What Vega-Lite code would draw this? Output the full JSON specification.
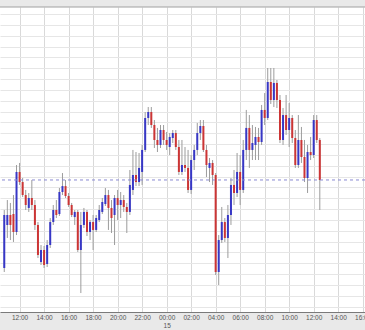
{
  "$schema": "https://vega.github.io/schema/vega-lite/v6.json",
  "width": 365,
  "height": 305,
  "autosize": {"type": "none"},
  "padding": {"left": 0, "top": 7, "right": 0, "bottom": 18},
  "background": "#e9e9e9",
  "config": {"view": {"fill": "#ffffff", "stroke": null}},
  "datasets": {
    "candles": [
      {"t": 10.75, "o": 103.57, "h": 108.92, "l": 103.20, "c": 108.46},
      {"t": 11.00, "o": 107.54, "h": 109.84, "l": 106.34, "c": 108.46},
      {"t": 11.25, "o": 108.46, "h": 109.57, "l": 106.15, "c": 107.54},
      {"t": 11.50, "o": 108.55, "h": 110.30, "l": 105.97, "c": 106.89},
      {"t": 11.75, "o": 106.89, "h": 113.07, "l": 106.61, "c": 112.43},
      {"t": 12.00, "o": 112.43, "h": 113.26, "l": 111.23, "c": 111.50},
      {"t": 12.25, "o": 111.50, "h": 111.87, "l": 110.12, "c": 110.30},
      {"t": 12.50, "o": 110.30, "h": 110.77, "l": 108.92, "c": 109.38},
      {"t": 12.75, "o": 109.11, "h": 110.49, "l": 108.74, "c": 110.03},
      {"t": 13.00, "o": 110.03, "h": 111.69, "l": 108.92, "c": 109.38},
      {"t": 13.25, "o": 109.38, "h": 109.84, "l": 107.08, "c": 107.54},
      {"t": 13.50, "o": 107.54, "h": 107.81, "l": 104.49, "c": 104.77},
      {"t": 13.75, "o": 104.12, "h": 105.69, "l": 103.85, "c": 105.23},
      {"t": 14.00, "o": 105.23, "h": 105.60, "l": 103.57, "c": 103.85},
      {"t": 14.25, "o": 103.94, "h": 106.15, "l": 103.66, "c": 105.69},
      {"t": 14.50, "o": 105.69, "h": 108.18, "l": 105.42, "c": 107.81},
      {"t": 14.75, "o": 107.81, "h": 109.38, "l": 107.54, "c": 108.92},
      {"t": 15.00, "o": 108.92, "h": 109.84, "l": 108.18, "c": 108.46},
      {"t": 15.25, "o": 108.55, "h": 110.95, "l": 108.37, "c": 110.58},
      {"t": 15.50, "o": 110.58, "h": 112.33, "l": 110.30, "c": 111.13},
      {"t": 15.75, "o": 111.13, "h": 111.69, "l": 110.03, "c": 110.21},
      {"t": 16.00, "o": 110.21, "h": 110.49, "l": 109.20, "c": 109.38},
      {"t": 16.25, "o": 109.38, "h": 109.57, "l": 108.27, "c": 108.46},
      {"t": 16.50, "o": 108.27, "h": 108.92, "l": 107.54, "c": 108.74},
      {"t": 16.75, "o": 108.74, "h": 108.92, "l": 105.05, "c": 105.23},
      {"t": 17.00, "o": 105.23, "h": 108.74, "l": 101.26, "c": 107.54},
      {"t": 17.25, "o": 107.54, "h": 109.11, "l": 107.26, "c": 108.74},
      {"t": 17.50, "o": 108.74, "h": 108.92, "l": 106.52, "c": 106.89},
      {"t": 17.75, "o": 106.89, "h": 108.00, "l": 106.15, "c": 107.81},
      {"t": 18.00, "o": 107.81, "h": 108.46, "l": 105.23, "c": 107.08},
      {"t": 18.25, "o": 107.08, "h": 108.46, "l": 106.89, "c": 108.18},
      {"t": 18.50, "o": 108.00, "h": 109.38, "l": 107.81, "c": 108.92},
      {"t": 18.75, "o": 108.74, "h": 110.03, "l": 108.55, "c": 109.66},
      {"t": 19.00, "o": 109.47, "h": 110.95, "l": 109.29, "c": 110.30},
      {"t": 19.25, "o": 110.30, "h": 110.77, "l": 107.08, "c": 109.11},
      {"t": 19.50, "o": 109.11, "h": 109.84, "l": 106.80, "c": 108.18},
      {"t": 19.75, "o": 108.46, "h": 110.30, "l": 105.69, "c": 110.03},
      {"t": 20.00, "o": 110.03, "h": 110.77, "l": 108.00, "c": 109.38},
      {"t": 20.25, "o": 109.38, "h": 110.58, "l": 108.18, "c": 109.84},
      {"t": 20.50, "o": 109.84, "h": 110.30, "l": 108.74, "c": 109.20},
      {"t": 20.75, "o": 109.20, "h": 109.57, "l": 106.80, "c": 108.74},
      {"t": 21.00, "o": 108.74, "h": 112.61, "l": 108.46, "c": 111.23},
      {"t": 21.25, "o": 110.77, "h": 114.46, "l": 110.30, "c": 112.15},
      {"t": 21.50, "o": 112.15, "h": 114.27, "l": 111.13, "c": 111.50},
      {"t": 21.75, "o": 111.50, "h": 114.18, "l": 111.13, "c": 112.80},
      {"t": 22.00, "o": 112.43, "h": 114.92, "l": 111.23, "c": 114.46},
      {"t": 22.25, "o": 114.46, "h": 117.96, "l": 114.27, "c": 117.41},
      {"t": 22.50, "o": 117.41, "h": 118.42, "l": 116.76, "c": 117.96},
      {"t": 22.75, "o": 117.96, "h": 118.42, "l": 116.49, "c": 116.76},
      {"t": 23.00, "o": 116.76, "h": 117.22, "l": 114.64, "c": 115.38},
      {"t": 23.25, "o": 115.38, "h": 116.49, "l": 114.27, "c": 114.92},
      {"t": 23.50, "o": 114.92, "h": 116.76, "l": 114.64, "c": 116.30},
      {"t": 23.75, "o": 116.30, "h": 116.76, "l": 114.92, "c": 115.38},
      {"t": 24.00, "o": 115.38, "h": 116.12, "l": 114.46, "c": 114.92},
      {"t": 24.25, "o": 114.73, "h": 116.02, "l": 113.99, "c": 115.66},
      {"t": 24.50, "o": 115.56, "h": 116.30, "l": 115.10, "c": 116.02},
      {"t": 24.75, "o": 116.02, "h": 116.30, "l": 114.46, "c": 114.73},
      {"t": 25.00, "o": 114.73, "h": 115.38, "l": 112.15, "c": 112.43},
      {"t": 25.25, "o": 112.43, "h": 115.38, "l": 112.15, "c": 113.07},
      {"t": 25.50, "o": 113.07, "h": 114.73, "l": 112.43, "c": 112.80},
      {"t": 25.75, "o": 112.80, "h": 114.46, "l": 110.49, "c": 110.77},
      {"t": 26.00, "o": 110.77, "h": 113.99, "l": 110.40, "c": 113.53},
      {"t": 26.25, "o": 113.53, "h": 114.92, "l": 112.61, "c": 114.46},
      {"t": 26.50, "o": 114.46, "h": 116.95, "l": 113.99, "c": 116.02},
      {"t": 26.75, "o": 116.02, "h": 117.22, "l": 115.38, "c": 116.67},
      {"t": 27.00, "o": 116.67, "h": 117.22, "l": 114.27, "c": 114.46},
      {"t": 27.25, "o": 114.46, "h": 114.92, "l": 111.96, "c": 113.07},
      {"t": 27.50, "o": 112.80, "h": 113.72, "l": 111.50, "c": 113.26},
      {"t": 27.75, "o": 113.26, "h": 113.53, "l": 111.23, "c": 112.15},
      {"t": 28.00, "o": 112.15, "h": 112.33, "l": 102.92, "c": 103.20},
      {"t": 28.25, "o": 103.20, "h": 106.61, "l": 102.00, "c": 106.15},
      {"t": 28.50, "o": 106.15, "h": 109.20, "l": 105.88, "c": 107.81},
      {"t": 28.75, "o": 107.81, "h": 108.18, "l": 105.97, "c": 106.34},
      {"t": 29.00, "o": 106.34, "h": 109.38, "l": 104.49, "c": 108.46},
      {"t": 29.25, "o": 108.46, "h": 111.87, "l": 107.54, "c": 111.23},
      {"t": 29.50, "o": 111.23, "h": 112.61, "l": 109.38, "c": 110.49},
      {"t": 29.75, "o": 110.49, "h": 114.18, "l": 110.12, "c": 112.43},
      {"t": 30.00, "o": 112.43, "h": 113.99, "l": 109.38, "c": 110.77},
      {"t": 30.25, "o": 110.77, "h": 115.38, "l": 110.49, "c": 114.46},
      {"t": 30.50, "o": 114.46, "h": 118.15, "l": 113.53, "c": 116.49},
      {"t": 30.75, "o": 116.49, "h": 117.68, "l": 112.80, "c": 114.46},
      {"t": 31.00, "o": 114.46, "h": 116.76, "l": 113.53, "c": 115.10},
      {"t": 31.25, "o": 114.92, "h": 116.58, "l": 113.53, "c": 115.66},
      {"t": 31.50, "o": 115.66, "h": 116.49, "l": 113.53, "c": 115.19},
      {"t": 31.75, "o": 115.19, "h": 118.61, "l": 114.92, "c": 118.15},
      {"t": 32.00, "o": 118.15, "h": 119.71, "l": 116.76, "c": 117.41},
      {"t": 32.25, "o": 117.41, "h": 122.02, "l": 117.22, "c": 120.73},
      {"t": 32.50, "o": 120.73, "h": 122.02, "l": 118.70, "c": 119.07},
      {"t": 32.75, "o": 119.07, "h": 122.02, "l": 118.42, "c": 120.64},
      {"t": 33.00, "o": 120.64, "h": 120.91, "l": 118.33, "c": 119.07},
      {"t": 33.25, "o": 119.07, "h": 119.53, "l": 115.10, "c": 115.38},
      {"t": 33.50, "o": 115.38, "h": 118.33, "l": 114.92, "c": 117.68},
      {"t": 33.75, "o": 117.68, "h": 119.53, "l": 115.84, "c": 116.30},
      {"t": 34.00, "o": 116.30, "h": 118.79, "l": 114.73, "c": 117.41},
      {"t": 34.25, "o": 117.41, "h": 117.68, "l": 115.10, "c": 115.56},
      {"t": 34.50, "o": 115.56, "h": 116.30, "l": 112.80, "c": 113.07},
      {"t": 34.75, "o": 113.07, "h": 117.68, "l": 112.80, "c": 115.38},
      {"t": 35.00, "o": 115.38, "h": 116.58, "l": 113.26, "c": 113.81},
      {"t": 35.25, "o": 113.81, "h": 115.38, "l": 111.50, "c": 111.87},
      {"t": 35.50, "o": 111.87, "h": 114.92, "l": 110.49, "c": 114.27},
      {"t": 35.75, "o": 114.27, "h": 115.66, "l": 113.53, "c": 113.99},
      {"t": 36.00, "o": 113.99, "h": 117.68, "l": 113.72, "c": 117.22},
      {"t": 36.25, "o": 117.22, "h": 117.68, "l": 115.10, "c": 115.38},
      {"t": 36.50, "o": 115.38, "h": 115.56, "l": 108.92, "c": 111.69}
    ],
    "lines": [
      {"name": "last", "price": 111.69},
      {"name": "top", "price": 127.647}
    ]
  },
  "layer": [
    {
      "data": {"name": "candles"},
      "mark": {"type": "rule", "color": "#9c9c9c", "strokeWidth": 1},
      "encoding": {
        "x": {
          "field": "t",
          "type": "quantitative",
          "scale": {"domain": [10.81, 39.78], "nice": false, "zero": false},
          "axis": {
            "values": [12, 14, 16, 18, 20, 22, 24, 26, 28, 30, 32, 34, 36, 38, 40],
            "tickCount": 100,
            "labelExpr": "datum.value == 24 ? ['00:00', '15'] : ((datum.value % 24 < 10 ? '0' : '') + (datum.value % 24) + ':00')",
            "grid": true,
            "gridColor": "#d9d9d9",
            "ticks": false,
            "domainColor": "#7a7a7a",
            "labelFont": "Liberation Sans",
            "labelFontSize": 6.5,
            "labelColor": "#555555",
            "labelPadding": 2,
            "labelLineHeight": 8,
            "labelFlush": false,
            "labelOverlap": false,
            "labelBound": false,
            "title": null
          }
        },
        "y": {
          "field": "l",
          "type": "quantitative",
          "scale": {"domain": [99.511, 127.647], "nice": false, "zero": false},
          "axis": {
            "values": [100, 101, 102, 103, 104, 105, 106, 107, 108, 109, 110, 111, 112, 113, 114, 115, 116, 117, 118, 119, 120, 121, 122, 123, 124, 125, 126, 127],
            "tickCount": 100,
            "labels": false,
            "ticks": false,
            "domain": false,
            "grid": true,
            "gridColor": "#e6e6e6",
            "title": null
          }
        },
        "y2": {"field": "h"}
      }
    },
    {
      "data": {"name": "candles"},
      "mark": {"type": "bar", "width": 2},
      "encoding": {
        "x": {"field": "t", "type": "quantitative"},
        "y": {"field": "o", "type": "quantitative"},
        "y2": {"field": "c"},
        "color": {
          "condition": {"test": "datum.c >= datum.o", "value": "#3737c6"},
          "value": "#cc3535"
        }
      }
    },
    {
      "data": {"name": "lines"},
      "transform": [{"filter": "datum.name == 'last'"}],
      "mark": {"type": "rule", "color": "#8a8ad2", "strokeWidth": 1, "strokeDash": [3, 3]},
      "encoding": {"y": {"field": "price", "type": "quantitative"}}
    },
    {
      "data": {"name": "lines"},
      "transform": [{"filter": "datum.name == 'top'"}],
      "mark": {"type": "rule", "color": "#a0a0a0", "strokeWidth": 1},
      "encoding": {"y": {"field": "price", "type": "quantitative"}}
    }
  ]
}
